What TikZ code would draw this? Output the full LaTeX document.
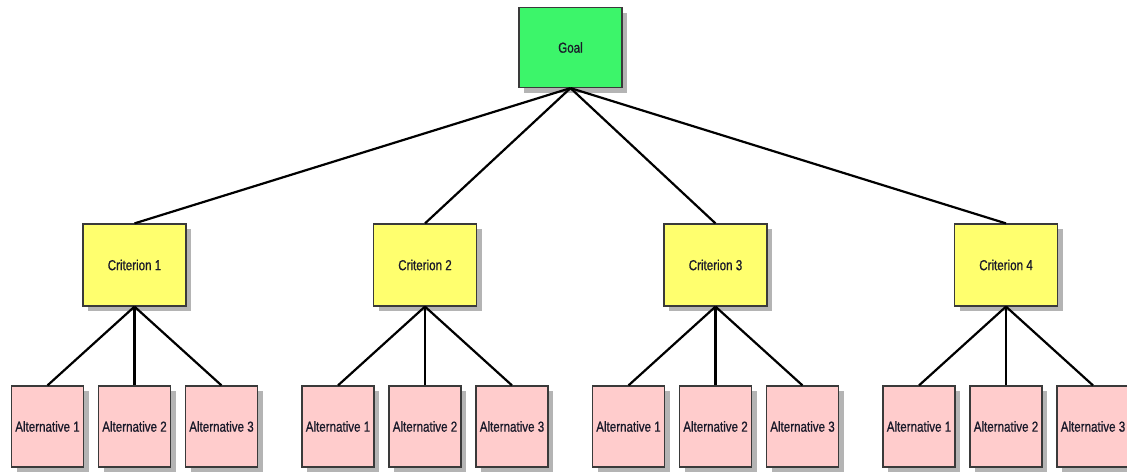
\documentclass[tikz,border=0pt]{standalone}
\usepackage{fontspec}
\setmainfont{Liberation Sans}[FakeStretch=0.8, FakeBold=0.8]
\usetikzlibrary{shadows}
\definecolor{goalfill}{HTML}{3CF56A}
\definecolor{critfill}{HTML}{FFFF6E}
\definecolor{altfill}{HTML}{FFCCCC}
\definecolor{boxline}{HTML}{3A3A3A}
\definecolor{shadowgray}{HTML}{B4B4B4}
\definecolor{labeltext}{HTML}{1A1A2A}
\tikzset{
  box/.style={draw=boxline, line width=1.2pt, inner sep=0pt,
    drop shadow={shadow xshift=5pt, shadow yshift=-5pt, fill=shadowgray, opacity=1},
    font=\fontsize{14.5}{16}\selectfont, text=labeltext},
  goalbox/.style={box, fill=goalfill, minimum width=103pt, minimum height=80pt},
  critbox/.style={box, fill=critfill, minimum width=103pt, minimum height=82pt},
  altbox/.style={box, fill=altfill, minimum width=72pt, minimum height=81pt},
  link/.style={line width=2.2pt, black}
}
\begin{document}
\begin{tikzpicture}[x=1pt, y=-1pt]
  \useasboundingbox (0,0) rectangle (1127,472);
  % goal
  \node[goalbox] (goal) at (570.5,47.5) {Goal};
  % criteria with their alternatives
  \foreach \i/\cx in {1/134.5, 2/425, 3/715.5, 4/1006} {
    \node[critbox] (c\i) at (\cx,265) {Criterion \i};
    \foreach \j/\dx in {1/-87, 2/0, 3/87} {
      \node[altbox] (a\i\j) at (\cx+\dx,426.5) {Alternative \j};
    }
  }
  % connectors
  \foreach \i in {1,...,4} {
    \draw[link] (goal.south) -- (c\i.north);
    \foreach \j in {1,2,3} {
      \draw[link] (c\i.south) -- (a\i\j.north);
    }
  }
\end{tikzpicture}
\end{document}
